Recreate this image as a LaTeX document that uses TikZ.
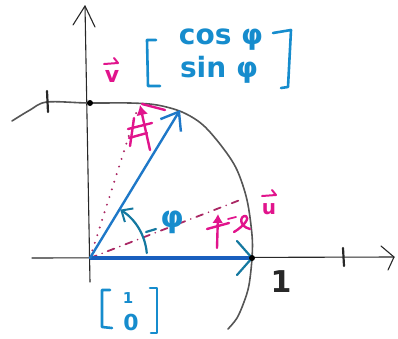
\documentclass[tikz,border=0pt]{standalone}
\usepackage{fontspec}
\setmainfont{DejaVu Sans}
\usetikzlibrary{arrows.meta}
\definecolor{txtblue}{RGB}{22,140,205}
\definecolor{vecblue}{RGB}{30,120,200}
\definecolor{thickblue}{RGB}{25,95,190}
\definecolor{tipteal}{RGB}{20,120,160}
\definecolor{mag}{RGB}{225,20,140}
\definecolor{magdk}{RGB}{170,40,100}
\definecolor{pen}{RGB}{40,40,40}
\definecolor{circgray}{RGB}{85,85,85}
\tikzset{
  axis/.style={draw=pen, line width=1.1pt, line cap=round, line join=round},
  circ/.style={draw=circgray, line width=1.6pt, line cap=round},
  vecline/.style={draw=vecblue, line width=2.4pt, line cap=round},
  basevec/.style={draw=thickblue, line width=4.5pt},
  bluetxt/.style={text=txtblue, inner sep=0pt},
  brk/.style={draw=txtblue, line width=2.6pt, line cap=round, line join=round},
  magpen/.style={draw=mag, line width=2.4pt, line cap=round, line join=round},
  magthin/.style={draw=mag, line width=2pt, line cap=round, line join=round},
  magtxt/.style={text=mag, inner sep=0pt},
  magdot/.style={draw=magdk, line width=2.2pt, line cap=round, dash pattern=on 0pt off 8pt},
  magdash/.style={draw=magdk, line width=1.8pt, line cap=round, dash pattern=on 7pt off 6pt on 0pt off 6pt},
  angarc/.style={draw=tipteal, line width=2.2pt, line cap=round},
  dotmark/.style={circle, fill=black, inner sep=0pt, minimum size=6pt}
}
\begin{document}
\begin{tikzpicture}[x=1pt,y=-1pt]
\useasboundingbox (0,0) rectangle (398,338);
% key points
\coordinate (O) at (90,258);
\coordinate (E1) at (252,258);
\coordinate (E2) at (180,110);
\coordinate (Ytop) at (85,6);
\coordinate (Ybot) at (90,282);
\coordinate (Xl) at (32,258);
\coordinate (Xr) at (394,257);
\coordinate (Vd) at (138,107);
\coordinate (Ud) at (240,200);
% axes
\draw[axis] (Ybot) -- (Ytop);
\draw[axis] (73,25) -- (Ytop) -- (95,27);
\draw[axis] (Xl) -- (Xr);
\draw[axis] (381,246) -- (Xr) -- (388,270);
\draw[axis, line width=2.2pt] (343,248) -- (344,266);
% unit circle (hand drawn)
\draw[circ] plot[smooth, tension=0.55] coordinates {(12,121) (30,110) (47,102) (88,103) (130,103) (157,105) (182,112) (203,125) (223,148) (237,170) (247,200) (252,235) (252,258) (249,285) (244,302) (237,318) (228,329)};
\draw[axis, line width=2.2pt] (47,91) -- (48,112);
\node[dotmark] (top) at (90,103) {};
% magenta helper lines
\draw[magdot] (O) -- (Vd);
\draw[magdash] (O) -- (Ud);
% angle arc
\draw[angarc, -{Straight Barb[length=9pt,width=16pt,line width=2pt]}] (O) ++(-5:57) arc[start angle=-5, end angle=-58, radius=57];
\draw[angarc] (146,232) -- (156,229);
% vectors
\draw[basevec] (O) -- (E1);
\draw[draw=tipteal, line width=2.2pt, line cap=round] (237,241) -- (E1) -- (237,275);
\draw[vecline, -{Straight Barb[length=16pt,width=24pt,line width=2.4pt]}] (O) -- (E2);
\node[dotmark] (e1dot) at (E1) {};
% magenta arrows at the tips
\draw[magpen, -{Latex[length=10pt,width=12pt]}] (150,150) -- (140,105);
\draw[magpen] (165,110) -- (142,104);
\draw[magpen] (128,129) -- (152,123);
\draw[magpen] (134,118) -- (130,146);
\draw[magpen] (129,138) -- (147,133);
\draw[magpen, -{Latex[length=9pt,width=11pt]}] (217,248) -- (218,214);
\draw[magpen] (207,229) -- (229,223);
\draw[magpen] (234,232) .. controls (244,226) and (250,218) .. (246,216) .. controls (240,215) and (238,226) .. (250,229);
\draw[magpen, line width=1.8pt] (228,219) -- (236,217);
% labels u and v with hand-drawn vector arrows
\node[magtxt, font=\fontsize{22}{22}\selectfont\bfseries] (v) at (112,76) {v};
\draw[magthin] (104,64) -- (118,63) -- (114,58);
\node[magtxt, font=\fontsize{20}{20}\selectfont\bfseries] (u) at (269,209) {u};
\draw[magthin] (262,196) -- (276,195) -- (272,190);
\node[bluetxt, font=\fontsize{28}{28}\selectfont\bfseries] (cs) at (221,40) {cos φ};
\node[bluetxt, font=\fontsize{28}{28}\selectfont\bfseries] (sn) at (219,70) {sin φ};
\draw[brk] (156,40) -- (147,40) -- (148,86) -- (160,86);
\draw[brk] (273,33) -- (291,30) -- (288,87) -- (281,88);
\node[bluetxt, font=\fontsize{30}{30}\selectfont\bfseries] (phi) at (172,222) {φ};
\node[bluetxt, font=\fontsize{15}{15}\selectfont\bfseries] (one0) at (128,298) {1};
\node[bluetxt, font=\fontsize{22}{22}\selectfont\bfseries] (zero0) at (131,322) {0};
\draw[brk] (110,290) -- (102,290) -- (102,327) -- (112,328);
\draw[brk] (150,288) -- (157,288) -- (157,333) -- (151,333);
\node[text=pen, font=\fontsize{30}{30}\selectfont\bfseries, inner sep=0pt] (onelab) at (281,282) {1};
\end{tikzpicture}
\end{document}
